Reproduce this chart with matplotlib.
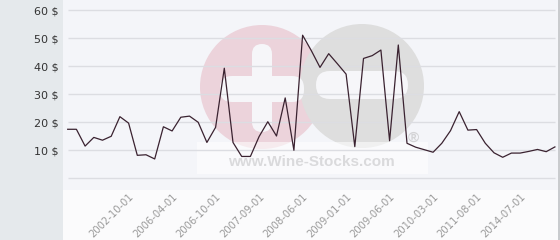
import matplotlib
matplotlib.use('Agg')
import matplotlib.pyplot as plt
from matplotlib.patches import Rectangle, Circle, FancyBboxPatch

# price history (one value per listed date)
prices = [17.4, 17.4, 11.4, 14.5, 13.5, 14.9, 21.9, 19.6, 8.1, 8.3,
          6.8, 18.3, 16.8, 21.7, 22.1, 19.9, 12.7, 18.1, 39.2, 12.7,
          7.7, 7.7, 14.8, 20.1, 15.0, 28.6, 9.9, 51.0, 45.5, 39.5,
          44.4, 40.8, 37.1, 11.2, 42.7, 43.7, 45.7, 13.3, 47.5, 12.4,
          11.0, 10.1, 9.2, 12.4, 16.9, 23.7, 17.1, 17.3, 12.4, 9.0,
          7.4, 8.9, 8.9, 9.5, 10.2, 9.4, 11.1]
tick_pos    = [7, 12, 17, 22, 27, 32, 37, 42, 47, 52]
tick_labels = ['2002-10-01', '2006-04-01', '2006-10-01', '2007-09-01',
               '2008-06-01', '2009-01-01', '2009-06-01', '2010-03-01',
               '2011-08-01', '2014-07-01']
y_ticks = [10, 20, 30, 40, 50, 60]

W, H = 560, 240
fig = plt.figure(figsize=(W / 100, H / 100), dpi=100)
fig.patch.set_facecolor('#fbfbfc')

# background layer in pixel coordinates (panels + watermark)
bg = fig.add_axes([0, 0, 1, 1], zorder=0)
bg.set_xlim(0, W)
bg.set_ylim(H, 0)
bg.axis('off')
bg.add_patch(Rectangle((0, 0), 63, H, color='#e5e9ec', lw=0))
bg.add_patch(Rectangle((63, 0), 496, 190, color='#f4f5f9', lw=0))
bg.add_patch(Rectangle((558, 0), 2, H, color='#c9cbce', lw=0))

# watermark logo
bg.add_patch(Circle((262, 87), 62, color='#ecd3db', lw=0))
bg.add_patch(Circle((362, 86), 62, color='#dedede', lw=0))
bg.add_patch(FancyBboxPatch((252, 44), 20, 88, boxstyle='round,pad=0,rounding_size=10',
                            color='#f6f6f9', lw=0))
bg.add_patch(FancyBboxPatch((220, 76), 84, 26, boxstyle='round,pad=0,rounding_size=12',
                            color='#f6f6f9', lw=0))
bg.add_patch(FancyBboxPatch((316, 71), 92, 28, boxstyle='round,pad=0,rounding_size=14',
                            color='#f6f6f9', lw=0))
bg.add_patch(Rectangle((197, 142), 231, 32, color='white', alpha=0.55, lw=0))
bg.text(311, 162, 'www.Wine-Stocks.com', ha='center', va='center',
        fontsize=11, fontweight='bold', family='Liberation Sans', color='#dadadc')
bg.text(413, 138, '®', ha='center', va='center', fontsize=11,
        fontweight='bold', family='Liberation Sans', color='#d4d4d6')

# chart layer
ax = fig.add_axes([63 / W, (H - 185) / H, (558 - 63) / W, 185 / H], zorder=1)
ax.patch.set_alpha(0)
x0 = -(67.7 - 63) / 8.7
ax.set_xlim(x0, x0 + (558 - 63) / 8.7)
ax.set_ylim((178 - 185) / 2.8, 178 / 2.8)

for v in [0] + y_ticks:
    ax.hlines(v, 0, len(prices) - 1 + 0.05, color='#dcdde2', lw=1, zorder=1)

ax.plot(range(len(prices)), prices, color='#3a2230', lw=0.9, zorder=3)

ax.set_yticks(y_ticks)
ax.set_yticklabels([f'{v} $' for v in y_ticks], fontsize=8, color='#333333')
ax.set_xticks(tick_pos)
ax.set_xticklabels(tick_labels, fontsize=7.2, color='#9a9a9a', rotation=45,
                   ha='right', va='top', rotation_mode='anchor')
ax.tick_params(length=0)
ax.tick_params(axis='y', pad=3)
ax.tick_params(axis='x', pad=5)
for s in ax.spines.values():
    s.set_visible(False)

fig.savefig('out.png', dpi=100, facecolor=fig.get_facecolor())
